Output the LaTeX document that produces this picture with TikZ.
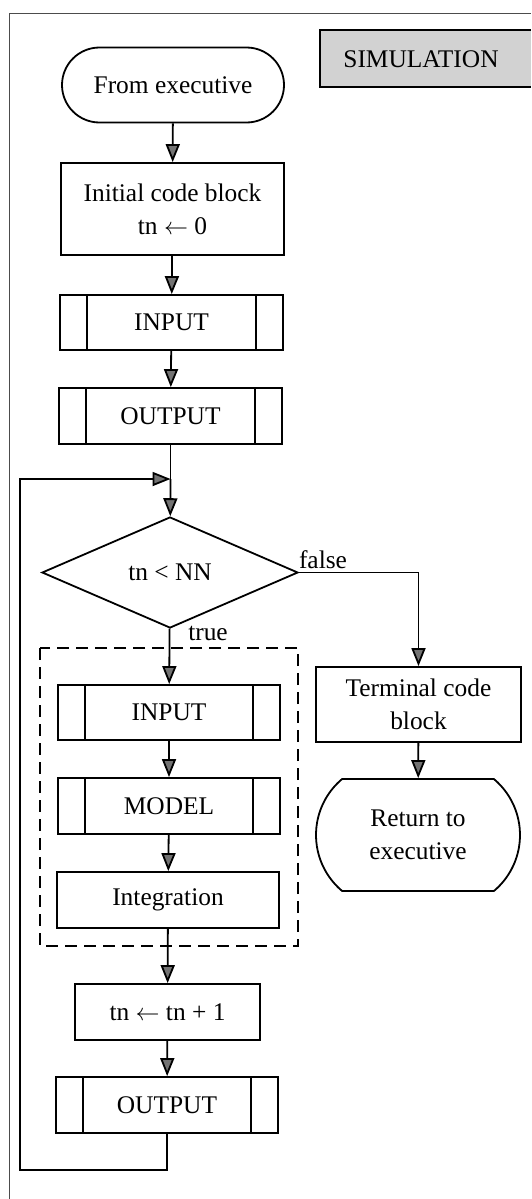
\documentclass[tikz,border=0pt]{standalone}
\usepackage{fontspec}
\setmainfont{Liberation Serif}
\usetikzlibrary{arrows.meta,shapes.geometric,shapes.misc}

\begin{document}
\begin{tikzpicture}[x=0.5pt,y=-0.5pt,line width=0.9pt,font=\fontsize{12.7pt}{16.5pt}\selectfont]
\tikzstyle{box}=[draw,rectangle,align=center,inner sep=0pt,minimum width=111.5pt,minimum height=28pt]
\tikzstyle{sub}=[box,path picture={
    \draw[line width=0.9pt] ([xshift=13.5pt]path picture bounding box.north west) -- ([xshift=13.5pt]path picture bounding box.south west)
      ([xshift=-13.5pt]path picture bounding box.north east) -- ([xshift=-13.5pt]path picture bounding box.south east);}]
\tikzstyle{term}=[draw,rounded rectangle,align=center,inner sep=0pt]
\tikzstyle{flow}=[-{Triangle[length=9pt,width=7pt,fill=black!55]}]
\useasboundingbox (0,0) rectangle (531,1199);
% frame and title
\draw[line width=0.5pt,black!70] (9,1199) -- (9,13) -- (531,13);
\fill[gray!35] (320,30) rectangle (531,87);
\draw[line width=0.6pt] (531,30) -- (320,30) -- (320,87) -- (531,87);
\node (sim) at (421,59) {SIMULATION};
% main column
\node[term,minimum width=111pt,minimum height=37.5pt] (start) at (173,85) {From executive};
\node[box,minimum height=46pt] (init) at (172.5,209) {Initial code block\\tn $\leftarrow$ 0};
\node[sub,minimum height=27.5pt] (in1) at (171.5,322.5) {INPUT};
\node[sub] (out1) at (170.5,416) {OUTPUT};
\coordinate (join) at (170.5,479);
\node[draw,diamond,aspect=2.3,inner sep=0pt,minimum width=128pt,minimum height=55.5pt] (test) at (170,572.5) {tn < NN};
\node (tlbl) at (208,633) {true};
\node (flbl) at (323,560) {false};
\node[sub,minimum width=111pt,minimum height=27.5pt] (in2) at (169,712.5) {INPUT};
\node[sub,minimum width=111pt] (model) at (169,806) {MODEL};
\node[box,minimum width=111pt] (integ) at (168,900) {Integration};
\draw[line width=0.7pt,dash pattern=on 6pt off 3.5pt] (40,648) rectangle (298,946);
\node[box,minimum width=92.5pt] (incr) at (167.5,1012) {tn $\leftarrow$ tn + 1};
\node[sub,minimum width=111pt] (out2) at (167,1105) {OUTPUT};
% exit branch
\node[box,minimum width=102.5pt,minimum height=37.5pt] (tcb) at (418.5,704.5) {Terminal code\\block};
\node[term,rounded rectangle arc length=100,minimum width=102pt,minimum height=56pt] (ret) at (418,835) {Return to\\executive};
\coordinate (bl) at (20,1170);

\draw[flow] (start) -- (init);
\draw[flow] (init) -- (in1);
\draw[flow] (in1) -- (out1);
\draw (out1) -- (join);
\draw[flow] (join) -- (test);
\draw[flow] (test) -- (in2);
\draw[flow] (in2) -- (model);
\draw[flow] (model) -- (integ);
\draw[flow] (integ) -- (incr);
\draw[flow] (incr) -- (out2);
\draw[flow] (out2.south) |- (bl) |- (join);
\draw[flow] (test.east) -| (tcb);
\draw[flow] (tcb) -- (ret);
\end{tikzpicture}
\end{document}
